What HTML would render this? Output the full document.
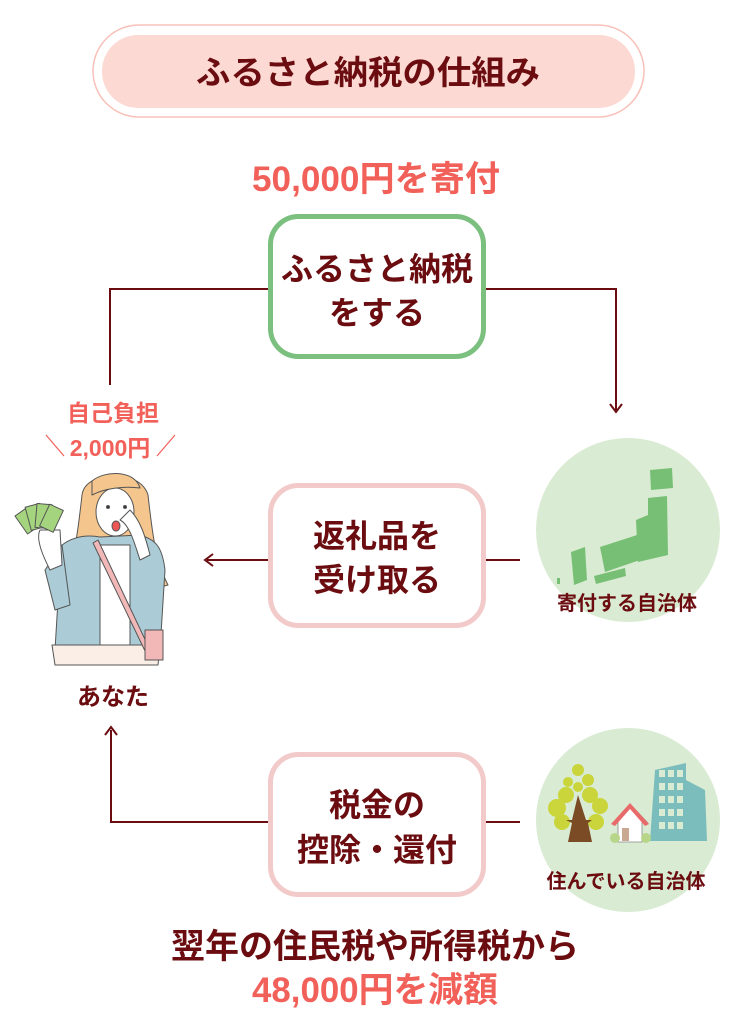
<!DOCTYPE html>
<html><head><meta charset="utf-8"><style>
html,body{margin:0;padding:0;background:#fff;}
svg{display:block;}
text{font-family:"Liberation Sans","Noto Sans CJK JP",sans-serif;font-weight:bold;}
</style></head><body>
<svg width="737" height="1024" viewBox="0 0 737 1024" xmlns="http://www.w3.org/2000/svg">
<!-- title -->
<rect x="93" y="25" width="551" height="92" rx="46" fill="#fff" stroke="#f8c0b8" stroke-width="1.5"/>
<rect x="102" y="35" width="533" height="73" rx="36" fill="#fdd9d3"/>
<text x="368" y="84" font-size="33" fill="#6b0d10" text-anchor="middle" textLength="344" lengthAdjust="spacingAndGlyphs">ふるさと納税の仕組み</text>
<text x="376" y="191" font-size="35" fill="#f2605a" text-anchor="middle" textLength="248" lengthAdjust="spacingAndGlyphs">50,000円を寄付</text>

<!-- connectors -->
<g stroke="#6b0d10" stroke-width="2" fill="none">
<polyline points="110,385 110,289 268,289"/>
<polyline points="485,289 616,289 616,410"/>
<line x1="520" y1="560" x2="486" y2="560"/>
<line x1="268" y1="560" x2="207" y2="560"/>
<line x1="520" y1="822" x2="486" y2="822"/>
<polyline points="268,822 111,822 111,730"/>
</g>
<g fill="none" stroke="#6b0d10" stroke-width="2">
<polyline points="610,404 616,412 622,404"/>
<polyline points="213,554 205,560 213,566"/>
<polyline points="105,735 111,727 117,735"/>
</g>

<!-- box 1 -->
<rect x="270.5" y="216.5" width="213" height="140" rx="28" fill="#fff" stroke="#7cc07f" stroke-width="5"/>
<text x="377" y="280" font-size="32" fill="#6b0d10" text-anchor="middle">ふるさと納税</text>
<text x="377" y="324" font-size="32" fill="#6b0d10" text-anchor="middle">をする</text>
<!-- box 2 -->
<rect x="270.5" y="485.5" width="213" height="140" rx="28" fill="#fff" stroke="#f3caca" stroke-width="5"/>
<text x="377" y="547" font-size="32" fill="#6b0d10" text-anchor="middle">返礼品を</text>
<text x="377" y="591" font-size="32" fill="#6b0d10" text-anchor="middle">受け取る</text>
<!-- box 3 -->
<rect x="270.5" y="754.5" width="213" height="140" rx="28" fill="#fff" stroke="#f3caca" stroke-width="5"/>
<text x="377" y="816" font-size="32" fill="#6b0d10" text-anchor="middle">税金の</text>
<text x="377" y="861" font-size="32" fill="#6b0d10" text-anchor="middle">控除・還付</text>

<!-- circle 1 japan -->
<circle cx="628" cy="530" r="92" fill="#d9ebd2"/>
<g fill="#78bf76">
<polygon points="650,470 672,468 673,488 651,490"/>
<polygon points="648,498 667,496 668,555 638,562 636,520 648,515"/>
<polygon points="600,547 637,535 640,560 605,572"/>
<polygon points="571,552 585,547 587,580 574,585"/>
<polygon points="594,576 625,568 626,576 596,584"/>
<rect x="557" y="578" width="3" height="6"/>
</g>
<text x="627" y="610" font-size="20" fill="#6b0d10" text-anchor="middle">寄付する自治体</text>

<!-- circle 2 town -->
<circle cx="628" cy="820" r="92" fill="#d9ebd2"/>
<g>
<polygon points="655,770 686,763 686,780 705,790 707,841 650,841" fill="#7bbdbd"/>
<g fill="#d9ebd2">
<rect x="659" y="770" width="6" height="7"/><rect x="668" y="770" width="6" height="7"/><rect x="677" y="770" width="6" height="7"/>
<rect x="659" y="783" width="6" height="7"/><rect x="668" y="783" width="6" height="7"/><rect x="677" y="783" width="6" height="7"/>
<rect x="659" y="796" width="6" height="7"/><rect x="668" y="796" width="6" height="7"/><rect x="677" y="796" width="6" height="7"/>
<rect x="659" y="809" width="6" height="7"/><rect x="668" y="809" width="6" height="7"/><rect x="677" y="809" width="6" height="7"/>
<rect x="659" y="822" width="6" height="7"/><rect x="668" y="822" width="6" height="7"/><rect x="677" y="822" width="6" height="7"/>
</g>
<g fill="#c9d53a">
<circle cx="578" cy="770" r="6"/><circle cx="568" cy="782" r="5"/><circle cx="588" cy="780" r="6"/>
<circle cx="566" cy="795" r="8"/><circle cx="590" cy="795" r="8"/><circle cx="557" cy="808" r="9"/>
<circle cx="600" cy="806" r="8"/><circle cx="562" cy="822" r="8"/><circle cx="596" cy="822" r="8"/>
<circle cx="578" cy="787" r="5"/>
</g>
<polygon points="578,795 586,820 592,820 588,823 592,842 568,842 572,823 566,820 572,820" fill="#7a4b24"/>
<polygon points="614,822 630,804 647,822 642,822 642,842 618,842 618,822" fill="#fff" stroke="#888" stroke-width="0.8"/>
<polygon points="611,824 630,803 649,824 645,826 630,809 615,826" fill="#e86a6a"/>
<rect x="622" y="828" width="7" height="13" fill="#c8a890"/>
<circle cx="615" cy="838" r="5" fill="#b7d68a"/><circle cx="646" cy="838" r="5" fill="#b7d68a"/>
</g>
<text x="626" y="888" font-size="20" fill="#6b0d10" text-anchor="middle">住んでいる自治体</text>

<!-- self burden -->
<text x="113" y="421" font-size="23" fill="#f2605a" text-anchor="middle">自己負担</text>
<text x="110" y="456" font-size="23" fill="#f2605a" text-anchor="middle">2,000円</text>
<line x1="46" y1="435" x2="64" y2="456" stroke="#f2605a" stroke-width="1.2"/>
<line x1="175" y1="435" x2="157" y2="456" stroke="#f2605a" stroke-width="1.2"/>

<!-- woman -->
<g stroke="#555" stroke-width="1" stroke-linejoin="round">
<path d="M82,495 C85,470 140,468 148,495 C152,530 155,560 168,585 L150,590 L80,590 L63,585 C75,560 78,530 82,495Z" fill="#f4c58c"/>
<ellipse cx="115" cy="512" rx="19" ry="24" fill="#fff"/>
<path d="M92,481 C105,470 135,470 140,488 C125,486 105,488 92,495Z" fill="#f4c58c"/>
<path d="M62,545 C75,535 90,535 100,537 L140,535 C155,540 162,545 165,570 L160,650 L55,650 L58,600 Z" fill="#abccd6"/>
<rect x="100" y="545" width="30" height="100" fill="#fff"/>
<path d="M45,570 L62,545 L70,605 L55,610 Z" fill="#abccd6"/>
<path d="M40,530 C35,540 45,560 50,570 L62,565 L60,530Z" fill="#fff"/>
<path d="M120,520 C130,525 135,545 140,560 L150,555 C145,535 140,520 130,510Z" fill="#fff"/>
<path d="M52,645 L160,645 L158,665 L55,665Z" fill="#fbeee6"/>
<path d="M98,540 L150,650 L146,653 L93,543Z" fill="#f2b8b8"/>
<rect x="145" y="630" width="18" height="30" fill="#f2b8b8"/>
<g fill="#a5d47f">
<rect x="20" y="510" width="15" height="22" transform="rotate(-35 27 521)"/>
<rect x="28" y="505" width="15" height="24" transform="rotate(-15 35 517)"/>
<rect x="36" y="504" width="15" height="24" transform="rotate(5 43 516)"/>
<rect x="44" y="506" width="15" height="24" transform="rotate(25 51 518)"/>
</g>
<circle cx="108" cy="507" r="1.5" fill="#333"/><circle cx="125" cy="507" r="1.5" fill="#333"/>
<ellipse cx="116" cy="526" rx="4" ry="5" fill="#e55"/>
</g>
<text x="113" y="705" font-size="24" fill="#6b0d10" text-anchor="middle">あなた</text>

<!-- bottom -->
<text x="375" y="958" font-size="34" fill="#6b0d10" text-anchor="middle">翌年の住民税や所得税から</text>
<text x="375" y="1002" font-size="35" fill="#f2605a" text-anchor="middle" textLength="246" lengthAdjust="spacingAndGlyphs">48,000円を減額</text>
</svg>
</body></html>
